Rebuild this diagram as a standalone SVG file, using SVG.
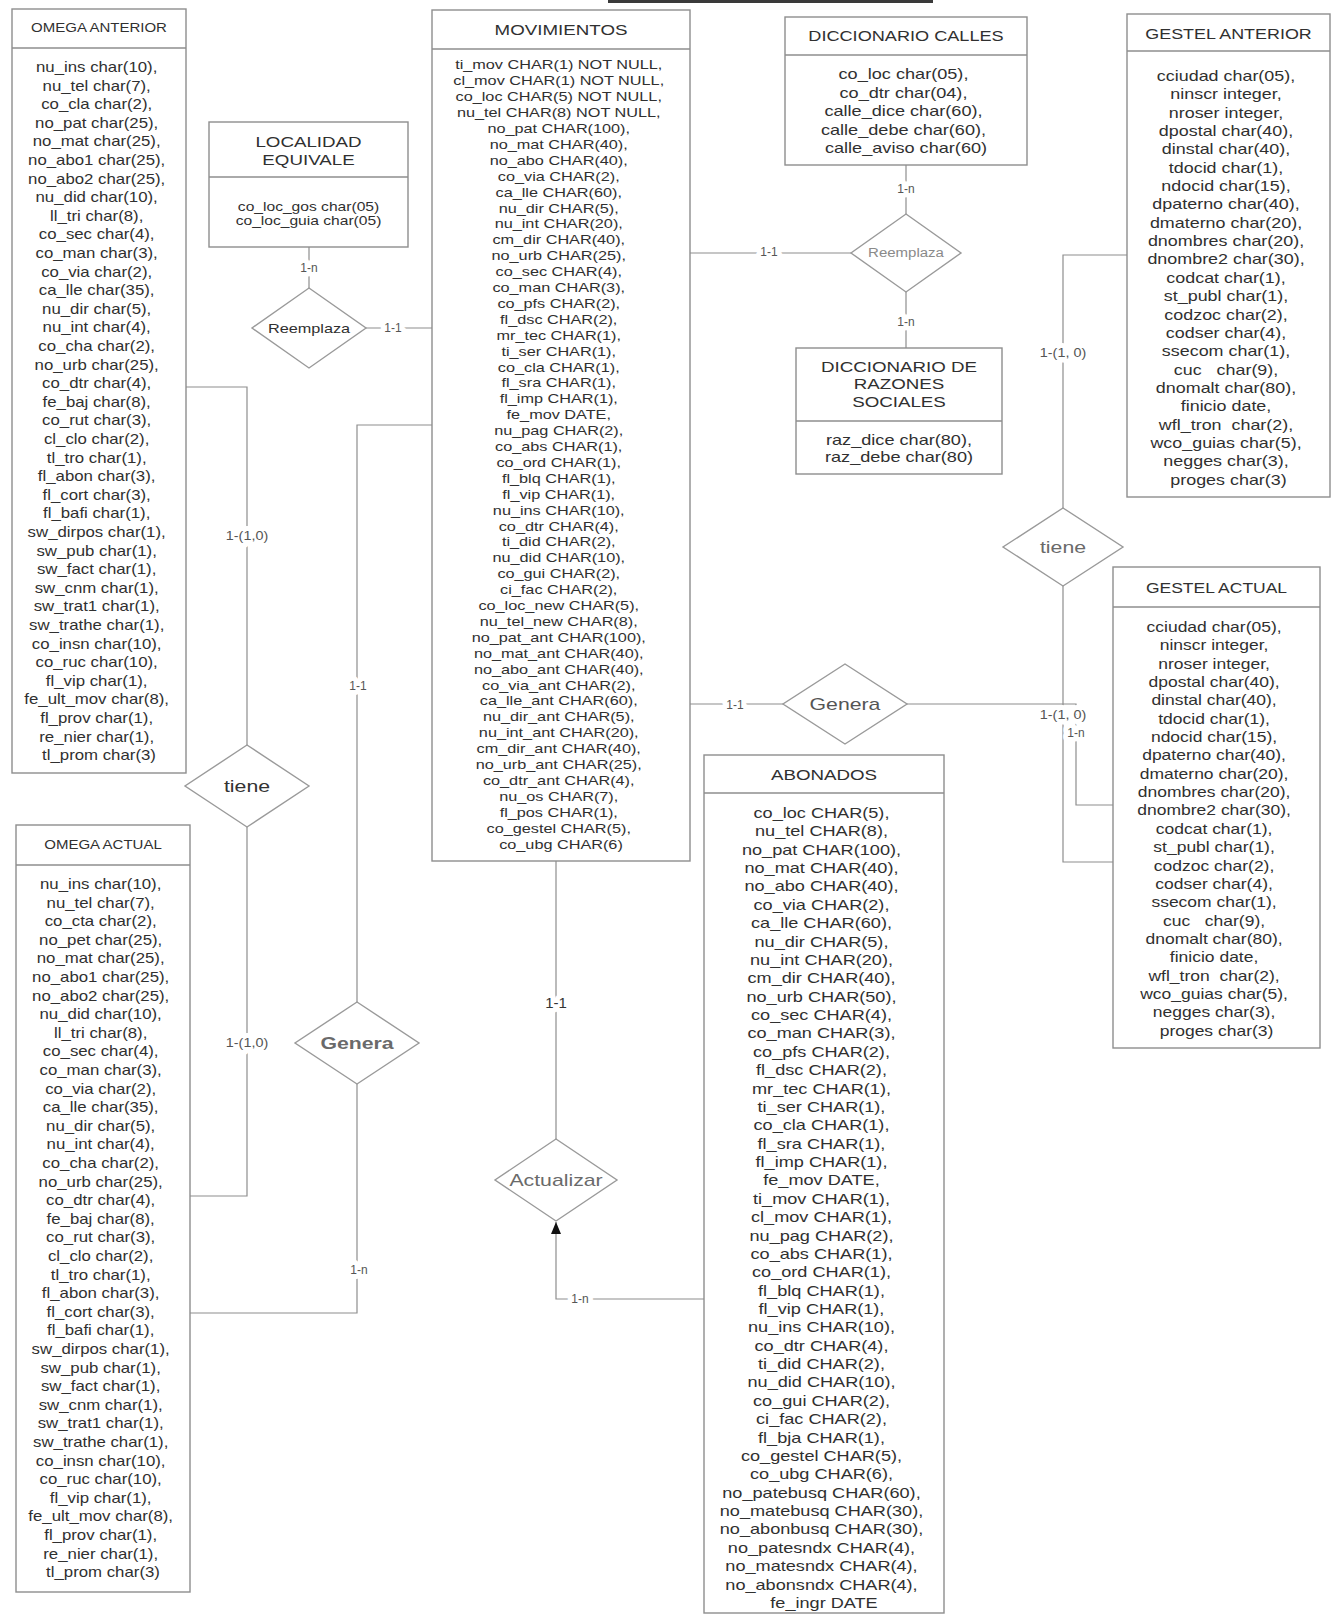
<svg xmlns="http://www.w3.org/2000/svg" width="1333" height="1617" viewBox="0 0 1333 1617">
  <style>
    text { font-family: "Liberation Sans", Arial, sans-serif; fill: #303030; text-anchor: middle; }
    .box { fill: #fff; stroke: #8e8e8e; stroke-width: 1.4; }
    .sep { stroke: #8e8e8e; stroke-width: 1.4; }
    .rel { fill: #fff; stroke: #9a9a9a; stroke-width: 1.4; }
    .rel-t { font-size: 17px; fill: #454545; }
    .wire { fill: none; stroke: #8e8e8e; stroke-width: 1.2; }
    .card { font-size: 12px; fill: #555; paint-order: stroke; stroke: #fff; stroke-width: 10px; stroke-linejoin: round; }
  </style>
  <defs>
    <marker id="tri" viewBox="0 0 12 10" refX="12" refY="5" markerWidth="12" markerHeight="10" orient="auto" markerUnits="userSpaceOnUse">
      <path d="M0,0 L12,5 L0,10 z" fill="#111"/>
    </marker>
  </defs>

  <rect x="608" y="0" width="325" height="3" fill="#3a3a3a"/>

  <!-- connectors -->
  <g id="connectors">
    <path class="wire" d="M309,247 V288"/>
    <path class="wire" d="M366,328 H432"/>
    <path class="wire" d="M186,387 H247 V745"/>
    <path class="wire" d="M247,827 V1196 H190"/>
    <path class="wire" d="M432,425 H357 V1002"/>
    <path class="wire" d="M357,1084 V1313 H190"/>
    <path class="wire" d="M556,861 V1139"/>
    <path class="wire" d="M704,1299 H556 V1222" marker-end="url(#tri)"/>
    <path class="wire" d="M690,253 H851"/>
    <path class="wire" d="M906,165 V214"/>
    <path class="wire" d="M906,292 V348"/>
    <path class="wire" d="M690,704 H783"/>
    <path class="wire" d="M1127,255 H1063 V508"/>
    <path class="wire" d="M1063,586 V862 H1113"/>
    <path class="wire" d="M907,704 H1076 V805 H1113"/>

    <text class="card" x="309" y="272">1-n</text>
    <text class="card" x="393" y="332">1-1</text>
    <text class="card" transform="translate(247 540) scale(1.2 1)" x="0" y="0">1-(1,0)</text>
    <text class="card" transform="translate(247 1047) scale(1.2 1)" x="0" y="0">1-(1,0)</text>
    <text class="card" x="358" y="690">1-1</text>
    <text class="card" x="359" y="1274">1-n</text>
    <text class="card" x="556" y="1008" style="font-size:15px;fill:#333">1-1</text>
    <text class="card" x="580" y="1303">1-n</text>
    <text class="card" x="769" y="256">1-1</text>
    <text class="card" x="906" y="193">1-n</text>
    <text class="card" x="906" y="326">1-n</text>
    <text class="card" x="735" y="709">1-1</text>
    <text class="card" transform="translate(1063 357) scale(1.2 1)" x="0" y="0">1-(1, 0)</text>
    <text class="card" transform="translate(1063 719) scale(1.2 1)" x="0" y="0">1-(1, 0)</text>
    <text class="card" x="1076" y="737">1-n</text>
  </g>

  <!-- OMEGA ANTERIOR -->
  <g id="omega-anterior">
    <rect class="box" x="12" y="9" width="174" height="764"/>
    <line class="sep" x1="12" y1="48" x2="186" y2="48"/>
    <g transform="translate(99 0) scale(1.2 1)">
      <text x="0" y="32.5" style="font-size:12.5px">OMEGA ANTERIOR</text>
      <text y="72" style="font-size:14px">
        <tspan x="0" dy="0">nu_ins char(10),</tspan>
        <tspan x="0" dy="18.6">nu_tel char(7),</tspan>
        <tspan x="0" dy="18.6">co_cla char(2),</tspan>
        <tspan x="0" dy="18.6">no_pat char(25),</tspan>
        <tspan x="0" dy="18.6">no_mat char(25),</tspan>
        <tspan x="0" dy="18.6">no_abo1 char(25),</tspan>
        <tspan x="0" dy="18.6">no_abo2 char(25),</tspan>
        <tspan x="0" dy="18.6">nu_did char(10),</tspan>
        <tspan x="0" dy="18.6">ll_tri char(8),</tspan>
        <tspan x="0" dy="18.6">co_sec char(4),</tspan>
        <tspan x="0" dy="18.6">co_man char(3),</tspan>
        <tspan x="0" dy="18.6">co_via char(2),</tspan>
        <tspan x="0" dy="18.6">ca_lle char(35),</tspan>
        <tspan x="0" dy="18.6">nu_dir char(5),</tspan>
        <tspan x="0" dy="18.6">nu_int char(4),</tspan>
        <tspan x="0" dy="18.6">co_cha char(2),</tspan>
        <tspan x="0" dy="18.6">no_urb char(25),</tspan>
        <tspan x="0" dy="18.6">co_dtr char(4),</tspan>
        <tspan x="0" dy="18.6">fe_baj char(8),</tspan>
        <tspan x="0" dy="18.6">co_rut char(3),</tspan>
        <tspan x="0" dy="18.6">cl_clo char(2),</tspan>
        <tspan x="0" dy="18.6">tl_tro char(1),</tspan>
        <tspan x="0" dy="18.6">fl_abon char(3),</tspan>
        <tspan x="0" dy="18.6">fl_cort char(3),</tspan>
        <tspan x="0" dy="18.6">fl_bafi char(1),</tspan>
        <tspan x="0" dy="18.6">sw_dirpos char(1),</tspan>
        <tspan x="0" dy="18.6">sw_pub char(1),</tspan>
        <tspan x="0" dy="18.6">sw_fact char(1),</tspan>
        <tspan x="0" dy="18.6">sw_cnm char(1),</tspan>
        <tspan x="0" dy="18.6">sw_trat1 char(1),</tspan>
        <tspan x="0" dy="18.6">sw_trathe char(1),</tspan>
        <tspan x="0" dy="18.6">co_insn char(10),</tspan>
        <tspan x="0" dy="18.6">co_ruc char(10),</tspan>
        <tspan x="0" dy="18.6">fl_vip char(1),</tspan>
        <tspan x="0" dy="18.6">fe_ult_mov char(8),</tspan>
        <tspan x="0" dy="18.6">fl_prov char(1),</tspan>
        <tspan x="0" dy="18.6">re_nier char(1),</tspan>
        <tspan x="0" dy="18.6">tl_prom char(3)</tspan>
      </text>
    </g>
  </g>

  <!-- OMEGA ACTUAL -->
  <g id="omega-actual">
    <rect class="box" x="16" y="825" width="174" height="767"/>
    <line class="sep" x1="16" y1="865" x2="190" y2="865"/>
    <g transform="translate(103 0) scale(1.2 1)">
      <text x="0" y="849.5" style="font-size:12.5px">OMEGA ACTUAL</text>
      <text y="889" style="font-size:14px">
        <tspan x="0" dy="0">nu_ins char(10),</tspan>
        <tspan x="0" dy="18.6">nu_tel char(7),</tspan>
        <tspan x="0" dy="18.6">co_cta char(2),</tspan>
        <tspan x="0" dy="18.6">no_pet char(25),</tspan>
        <tspan x="0" dy="18.6">no_mat char(25),</tspan>
        <tspan x="0" dy="18.6">no_abo1 char(25),</tspan>
        <tspan x="0" dy="18.6">no_abo2 char(25),</tspan>
        <tspan x="0" dy="18.6">nu_did char(10),</tspan>
        <tspan x="0" dy="18.6">ll_tri char(8),</tspan>
        <tspan x="0" dy="18.6">co_sec char(4),</tspan>
        <tspan x="0" dy="18.6">co_man char(3),</tspan>
        <tspan x="0" dy="18.6">co_via char(2),</tspan>
        <tspan x="0" dy="18.6">ca_lle char(35),</tspan>
        <tspan x="0" dy="18.6">nu_dir char(5),</tspan>
        <tspan x="0" dy="18.6">nu_int char(4),</tspan>
        <tspan x="0" dy="18.6">co_cha char(2),</tspan>
        <tspan x="0" dy="18.6">no_urb char(25),</tspan>
        <tspan x="0" dy="18.6">co_dtr char(4),</tspan>
        <tspan x="0" dy="18.6">fe_baj char(8),</tspan>
        <tspan x="0" dy="18.6">co_rut char(3),</tspan>
        <tspan x="0" dy="18.6">cl_clo char(2),</tspan>
        <tspan x="0" dy="18.6">tl_tro char(1),</tspan>
        <tspan x="0" dy="18.6">fl_abon char(3),</tspan>
        <tspan x="0" dy="18.6">fl_cort char(3),</tspan>
        <tspan x="0" dy="18.6">fl_bafi char(1),</tspan>
        <tspan x="0" dy="18.6">sw_dirpos char(1),</tspan>
        <tspan x="0" dy="18.6">sw_pub char(1),</tspan>
        <tspan x="0" dy="18.6">sw_fact char(1),</tspan>
        <tspan x="0" dy="18.6">sw_cnm char(1),</tspan>
        <tspan x="0" dy="18.6">sw_trat1 char(1),</tspan>
        <tspan x="0" dy="18.6">sw_trathe char(1),</tspan>
        <tspan x="0" dy="18.6">co_insn char(10),</tspan>
        <tspan x="0" dy="18.6">co_ruc char(10),</tspan>
        <tspan x="0" dy="18.6">fl_vip char(1),</tspan>
        <tspan x="0" dy="18.6">fe_ult_mov char(8),</tspan>
        <tspan x="0" dy="18.6">fl_prov char(1),</tspan>
        <tspan x="0" dy="18.6">re_nier char(1),</tspan>
        <tspan x="0" dy="18.6">tl_prom char(3)</tspan>
      </text>
    </g>
  </g>

  <!-- LOCALIDAD EQUIVALE -->
  <g id="localidad-equivale">
    <rect class="box" x="209" y="122" width="199" height="125"/>
    <line class="sep" x1="209" y1="177" x2="408" y2="177"/>
    <g transform="translate(308.5 0) scale(1.25 1)">
      <text x="0" y="147.5" style="font-size:15px">LOCALIDAD</text>
      <text x="0" y="165.5" style="font-size:15px">EQUIVALE</text>
      <text x="0" y="211.5" style="font-size:12.5px">co_loc_gos char(05)</text>
      <text x="0" y="225" style="font-size:12.5px">co_loc_guia char(05)</text>
    </g>
  </g>

  <!-- MOVIMIENTOS -->
  <g id="movimientos">
    <rect class="box" x="432" y="10" width="258" height="851"/>
    <line class="sep" x1="432" y1="49" x2="690" y2="49"/>
    <g transform="translate(561 0) scale(1.25 1)">
      <text x="0" y="35.5" style="font-size:15px">MOVIMIENTOS</text>
      <text y="69.5" style="font-size:13px">
        <tspan x="0" dy="0">ti_mov CHAR(1) NOT NULL,</tspan>
        <tspan x="0" dy="15.9">cl_mov CHAR(1) NOT NULL,</tspan>
        <tspan x="0" dy="15.9">co_loc CHAR(5) NOT NULL,</tspan>
        <tspan x="0" dy="15.9">nu_tel CHAR(8) NOT NULL,</tspan>
        <tspan x="0" dy="15.9">no_pat CHAR(100),</tspan>
        <tspan x="0" dy="15.9">no_mat CHAR(40),</tspan>
        <tspan x="0" dy="15.9">no_abo CHAR(40),</tspan>
        <tspan x="0" dy="15.9">co_via CHAR(2),</tspan>
        <tspan x="0" dy="15.9">ca_lle CHAR(60),</tspan>
        <tspan x="0" dy="15.9">nu_dir CHAR(5),</tspan>
        <tspan x="0" dy="15.9">nu_int CHAR(20),</tspan>
        <tspan x="0" dy="15.9">cm_dir CHAR(40),</tspan>
        <tspan x="0" dy="15.9">no_urb CHAR(25),</tspan>
        <tspan x="0" dy="15.9">co_sec CHAR(4),</tspan>
        <tspan x="0" dy="15.9">co_man CHAR(3),</tspan>
        <tspan x="0" dy="15.9">co_pfs CHAR(2),</tspan>
        <tspan x="0" dy="15.9">fl_dsc CHAR(2),</tspan>
        <tspan x="0" dy="15.9">mr_tec CHAR(1),</tspan>
        <tspan x="0" dy="15.9">ti_ser CHAR(1),</tspan>
        <tspan x="0" dy="15.9">co_cla CHAR(1),</tspan>
        <tspan x="0" dy="15.9">fl_sra CHAR(1),</tspan>
        <tspan x="0" dy="15.9">fl_imp CHAR(1),</tspan>
        <tspan x="0" dy="15.9">fe_mov DATE,</tspan>
        <tspan x="0" dy="15.9">nu_pag CHAR(2),</tspan>
        <tspan x="0" dy="15.9">co_abs CHAR(1),</tspan>
        <tspan x="0" dy="15.9">co_ord CHAR(1),</tspan>
        <tspan x="0" dy="15.9">fl_blq CHAR(1),</tspan>
        <tspan x="0" dy="15.9">fl_vip CHAR(1),</tspan>
        <tspan x="0" dy="15.9">nu_ins CHAR(10),</tspan>
        <tspan x="0" dy="15.9">co_dtr CHAR(4),</tspan>
        <tspan x="0" dy="15.9">ti_did CHAR(2),</tspan>
        <tspan x="0" dy="15.9">nu_did CHAR(10),</tspan>
        <tspan x="0" dy="15.9">co_gui CHAR(2),</tspan>
        <tspan x="0" dy="15.9">ci_fac CHAR(2),</tspan>
        <tspan x="0" dy="15.9">co_loc_new CHAR(5),</tspan>
        <tspan x="0" dy="15.9">nu_tel_new CHAR(8),</tspan>
        <tspan x="0" dy="15.9">no_pat_ant CHAR(100),</tspan>
        <tspan x="0" dy="15.9">no_mat_ant CHAR(40),</tspan>
        <tspan x="0" dy="15.9">no_abo_ant CHAR(40),</tspan>
        <tspan x="0" dy="15.9">co_via_ant CHAR(2),</tspan>
        <tspan x="0" dy="15.9">ca_lle_ant CHAR(60),</tspan>
        <tspan x="0" dy="15.9">nu_dir_ant CHAR(5),</tspan>
        <tspan x="0" dy="15.9">nu_int_ant CHAR(20),</tspan>
        <tspan x="0" dy="15.9">cm_dir_ant CHAR(40),</tspan>
        <tspan x="0" dy="15.9">no_urb_ant CHAR(25),</tspan>
        <tspan x="0" dy="15.9">co_dtr_ant CHAR(4),</tspan>
        <tspan x="0" dy="15.9">nu_os CHAR(7),</tspan>
        <tspan x="0" dy="15.9">fl_pos CHAR(1),</tspan>
        <tspan x="0" dy="15.9">co_gestel CHAR(5),</tspan>
        <tspan x="0" dy="15.9">co_ubg CHAR(6)</tspan>
      </text>
    </g>
  </g>

  <!-- DICCIONARIO CALLES -->
  <g id="diccionario-calles">
    <rect class="box" x="785" y="17" width="242" height="148"/>
    <line class="sep" x1="785" y1="55" x2="1027" y2="55"/>
    <g transform="translate(906 0) scale(1.25 1)">
      <text x="0" y="41" style="font-size:14.5px">DICCIONARIO CALLES</text>
      <text y="79" style="font-size:14.5px">
        <tspan x="0" dy="0">co_loc char(05),</tspan>
        <tspan x="0" dy="18.6">co_dtr char(04),</tspan>
        <tspan x="0" dy="18.6">calle_dice char(60),</tspan>
        <tspan x="0" dy="18.6">calle_debe char(60),</tspan>
        <tspan x="0" dy="18.6">calle_aviso char(60)</tspan>
      </text>
    </g>
  </g>

  <!-- DICCIONARIO DE RAZONES SOCIALES -->
  <g id="diccionario-razones">
    <rect class="box" x="796" y="348" width="206" height="126"/>
    <line class="sep" x1="796" y1="421" x2="1002" y2="421"/>
    <g transform="translate(899 0) scale(1.25 1)">
      <text x="0" y="372" style="font-size:15px">DICCIONARIO DE</text>
      <text x="0" y="389.5" style="font-size:15px">RAZONES</text>
      <text x="0" y="407" style="font-size:15px">SOCIALES</text>
      <text x="0" y="445" style="font-size:14.5px">raz_dice char(80),</text>
      <text x="0" y="462" style="font-size:14.5px">raz_debe char(80)</text>
    </g>
  </g>

  <!-- GESTEL ANTERIOR -->
  <g id="gestel-anterior">
    <rect class="box" x="1127" y="14" width="203" height="483"/>
    <line class="sep" x1="1127" y1="51" x2="1330" y2="51"/>
    <g transform="translate(1228.5 0) scale(1.28 1)">
      <text x="0" y="39" style="font-size:14px">GESTEL ANTERIOR</text>
      <text y="81" style="font-size:14px">
        <tspan x="0" dy="0">cciudad char(05),</tspan>
        <tspan x="0" dy="18.35">ninscr integer,</tspan>
        <tspan x="0" dy="18.35">nroser integer,</tspan>
        <tspan x="0" dy="18.35">dpostal char(40),</tspan>
        <tspan x="0" dy="18.35">dinstal char(40),</tspan>
        <tspan x="0" dy="18.35">tdocid char(1),</tspan>
        <tspan x="0" dy="18.35">ndocid char(15),</tspan>
        <tspan x="0" dy="18.35">dpaterno char(40),</tspan>
        <tspan x="0" dy="18.35">dmaterno char(20),</tspan>
        <tspan x="0" dy="18.35">dnombres char(20),</tspan>
        <tspan x="0" dy="18.35">dnombre2 char(30),</tspan>
        <tspan x="0" dy="18.35">codcat char(1),</tspan>
        <tspan x="0" dy="18.35">st_publ char(1),</tspan>
        <tspan x="0" dy="18.35">codzoc char(2),</tspan>
        <tspan x="0" dy="18.35">codser char(4),</tspan>
        <tspan x="0" dy="18.35">ssecom char(1),</tspan>
        <tspan x="0" dy="18.35">cuc&#160;&#160;&#160;char(9),</tspan>
        <tspan x="0" dy="18.35">dnomalt char(80),</tspan>
        <tspan x="0" dy="18.35">finicio date,</tspan>
        <tspan x="0" dy="18.35">wfl_tron&#160; char(2),</tspan>
        <tspan x="0" dy="18.35">wco_guias char(5),</tspan>
        <tspan x="0" dy="18.35">negges char(3),</tspan>
        <tspan x="0" dy="18.35">proges char(3)</tspan>
      </text>
    </g>
  </g>

  <!-- GESTEL ACTUAL -->
  <g id="gestel-actual">
    <rect class="box" x="1113" y="567" width="207" height="481"/>
    <line class="sep" x1="1113" y1="607" x2="1320" y2="607"/>
    <g transform="translate(1216.5 0) scale(1.25 1)">
      <text x="0" y="593" style="font-size:14px">GESTEL ACTUAL</text>
      <text y="632" style="font-size:14px">
        <tspan x="0" dy="0">cciudad char(05),</tspan>
        <tspan x="0" dy="18.35">ninscr integer,</tspan>
        <tspan x="0" dy="18.35">nroser integer,</tspan>
        <tspan x="0" dy="18.35">dpostal char(40),</tspan>
        <tspan x="0" dy="18.35">dinstal char(40),</tspan>
        <tspan x="0" dy="18.35">tdocid char(1),</tspan>
        <tspan x="0" dy="18.35">ndocid char(15),</tspan>
        <tspan x="0" dy="18.35">dpaterno char(40),</tspan>
        <tspan x="0" dy="18.35">dmaterno char(20),</tspan>
        <tspan x="0" dy="18.35">dnombres char(20),</tspan>
        <tspan x="0" dy="18.35">dnombre2 char(30),</tspan>
        <tspan x="0" dy="18.35">codcat char(1),</tspan>
        <tspan x="0" dy="18.35">st_publ char(1),</tspan>
        <tspan x="0" dy="18.35">codzoc char(2),</tspan>
        <tspan x="0" dy="18.35">codser char(4),</tspan>
        <tspan x="0" dy="18.35">ssecom char(1),</tspan>
        <tspan x="0" dy="18.35">cuc&#160;&#160;&#160;char(9),</tspan>
        <tspan x="0" dy="18.35">dnomalt char(80),</tspan>
        <tspan x="0" dy="18.35">finicio date,</tspan>
        <tspan x="0" dy="18.35">wfl_tron&#160; char(2),</tspan>
        <tspan x="0" dy="18.35">wco_guias char(5),</tspan>
        <tspan x="0" dy="18.35">negges char(3),</tspan>
        <tspan x="0" dy="18.35">proges char(3)</tspan>
      </text>
    </g>
  </g>

  <!-- ABONADOS -->
  <g id="abonados">
    <rect class="box" x="704" y="755" width="240" height="858"/>
    <line class="sep" x1="704" y1="793" x2="944" y2="793"/>
    <g transform="translate(824 0) scale(1.25 1)">
      <text x="0" y="780.5" style="font-size:15px">ABONADOS</text>
      <text y="818" style="font-size:14.5px">
        <tspan x="0" dy="0">co_loc CHAR(5),</tspan>
        <tspan x="0" dy="18.37">nu_tel CHAR(8),</tspan>
        <tspan x="0" dy="18.37">no_pat CHAR(100),</tspan>
        <tspan x="0" dy="18.37">no_mat CHAR(40),</tspan>
        <tspan x="0" dy="18.37">no_abo CHAR(40),</tspan>
        <tspan x="0" dy="18.37">co_via CHAR(2),</tspan>
        <tspan x="0" dy="18.37">ca_lle CHAR(60),</tspan>
        <tspan x="0" dy="18.37">nu_dir CHAR(5),</tspan>
        <tspan x="0" dy="18.37">nu_int CHAR(20),</tspan>
        <tspan x="0" dy="18.37">cm_dir CHAR(40),</tspan>
        <tspan x="0" dy="18.37">no_urb CHAR(50),</tspan>
        <tspan x="0" dy="18.37">co_sec CHAR(4),</tspan>
        <tspan x="0" dy="18.37">co_man CHAR(3),</tspan>
        <tspan x="0" dy="18.37">co_pfs CHAR(2),</tspan>
        <tspan x="0" dy="18.37">fl_dsc CHAR(2),</tspan>
        <tspan x="0" dy="18.37">mr_tec CHAR(1),</tspan>
        <tspan x="0" dy="18.37">ti_ser CHAR(1),</tspan>
        <tspan x="0" dy="18.37">co_cla CHAR(1),</tspan>
        <tspan x="0" dy="18.37">fl_sra CHAR(1),</tspan>
        <tspan x="0" dy="18.37">fl_imp CHAR(1),</tspan>
        <tspan x="0" dy="18.37">fe_mov DATE,</tspan>
        <tspan x="0" dy="18.37">ti_mov CHAR(1),</tspan>
        <tspan x="0" dy="18.37">cl_mov CHAR(1),</tspan>
        <tspan x="0" dy="18.37">nu_pag CHAR(2),</tspan>
        <tspan x="0" dy="18.37">co_abs CHAR(1),</tspan>
        <tspan x="0" dy="18.37">co_ord CHAR(1),</tspan>
        <tspan x="0" dy="18.37">fl_blq CHAR(1),</tspan>
        <tspan x="0" dy="18.37">fl_vip CHAR(1),</tspan>
        <tspan x="0" dy="18.37">nu_ins CHAR(10),</tspan>
        <tspan x="0" dy="18.37">co_dtr CHAR(4),</tspan>
        <tspan x="0" dy="18.37">ti_did CHAR(2),</tspan>
        <tspan x="0" dy="18.37">nu_did CHAR(10),</tspan>
        <tspan x="0" dy="18.37">co_gui CHAR(2),</tspan>
        <tspan x="0" dy="18.37">ci_fac CHAR(2),</tspan>
        <tspan x="0" dy="18.37">fl_bja CHAR(1),</tspan>
        <tspan x="0" dy="18.37">co_gestel CHAR(5),</tspan>
        <tspan x="0" dy="18.37">co_ubg CHAR(6),</tspan>
        <tspan x="0" dy="18.37">no_patebusq CHAR(60),</tspan>
        <tspan x="0" dy="18.37">no_matebusq CHAR(30),</tspan>
        <tspan x="0" dy="18.37">no_abonbusq CHAR(30),</tspan>
        <tspan x="0" dy="18.37">no_patesndx CHAR(4),</tspan>
        <tspan x="0" dy="18.37">no_matesndx CHAR(4),</tspan>
        <tspan x="0" dy="18.37">no_abonsndx CHAR(4),</tspan>
        <tspan x="0" dy="18.37">fe_ingr DATE</tspan>
      </text>
    </g>
  </g>

  <!-- relationships -->
  <g id="rel-reemplaza-localidad">
    <polygon class="rel" points="309,288 366,328 309,368 252,328"/>
    <text transform="translate(309 332.5) scale(1.25 1)" x="0" y="0" style="font-size:13px">Reemplaza</text>
  </g>
  <g id="rel-reemplaza-calles">
    <polygon class="rel" points="906,214 961,253 906,292 851,253"/>
    <text transform="translate(906 257) scale(1.25 1)" x="0" y="0" style="font-size:12px;fill:#8a8a8a">Reemplaza</text>
  </g>
  <g id="rel-tiene-omega">
    <polygon class="rel" points="247,745 309,786 247,827 185,786"/>
    <text class="rel-t" transform="translate(247 792) scale(1.25 1)" x="0" y="0" style="fill:#333">tiene</text>
  </g>
  <g id="rel-genera-omega">
    <polygon class="rel" points="357,1002 419,1043 357,1084 295,1043"/>
    <text class="rel-t" transform="translate(357 1049) scale(1.25 1)" x="0" y="0" style="fill:#6a6a6a;font-weight:bold">Genera</text>
  </g>
  <g id="rel-actualizar">
    <polygon class="rel" points="556,1139 617,1180 556,1221 495,1180"/>
    <text class="rel-t" transform="translate(556 1186) scale(1.25 1)" x="0" y="0" style="fill:#6a6a6a">Actualizar</text>
  </g>
  <g id="rel-genera-gestel">
    <polygon class="rel" points="845,664 907,704 845,744 783,704"/>
    <text class="rel-t" transform="translate(845 710) scale(1.25 1)" x="0" y="0" style="fill:#555">Genera</text>
  </g>
  <g id="rel-tiene-gestel">
    <polygon class="rel" points="1063,508 1123,547 1063,586 1003,547"/>
    <text class="rel-t" transform="translate(1063 553) scale(1.25 1)" x="0" y="0" style="fill:#6a6a6a">tiene</text>
  </g>
</svg>
